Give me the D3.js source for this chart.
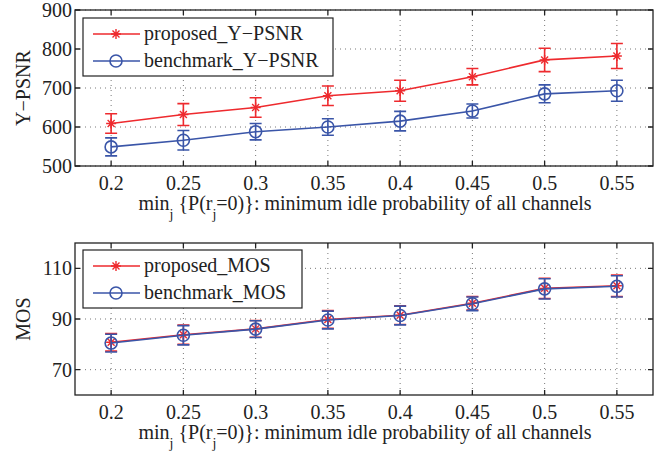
<!DOCTYPE html>
<html>
<head>
<meta charset="utf-8">
<script src="https://cdn.jsdelivr.net/npm/d3@7"></script>
<style>
  body { margin: 0; background: #fff; }
</style>
</head>
<body>
<svg id="chart"></svg>
<script>
    // data
    const probs = [0.2, 0.25, 0.3, 0.35, 0.4, 0.45, 0.5, 0.55];
    const xTicks = ["0.2", "0.25", "0.3", "0.35", "0.4", "0.45", "0.5", "0.55"];

    const proposedPsnr = [609, 632, 650, 680, 693, 729, 772, 782];
    const proposedPsnrErr = [25, 28, 25, 25, 27, 21, 30, 32];
    const benchmarkPsnr = [549, 566, 588, 600, 615, 641, 685, 693];
    const benchmarkPsnrErr = [23, 25, 21, 21, 25, 18, 23, 27];

    const proposedMos = [80.8, 83.8, 86.1, 89.8, 91.5, 96.2, 102.1, 103.1];
    const proposedMosErr = [3.5, 3.8, 3.3, 3.5, 3.7, 2.7, 4.0, 4.2];
    const benchmarkMos = [80.5, 83.6, 86.0, 89.6, 91.4, 96.0, 101.9, 102.9];
    const benchmarkMosErr = [3.5, 3.8, 3.3, 3.5, 3.7, 2.7, 4.0, 4.2];

    const psnrTicks = [500, 600, 700, 800, 900];
    const mosTicks = [70, 90, 110];

    const red = "#ee2a2e";
    const blue = "#3a55a8";
    const font = "'Liberation Serif', 'DejaVu Serif', serif";

    const width = 668, height = 454;
    const svg = d3.select("#chart").attr("width", width).attr("height", height)
      .attr("font-family", font);
    svg.append("rect").attr("width", width).attr("height", height).attr("fill", "#fff");

    function star(g, x, y, color) {
      const r = 5;
      g.append("path")
        .attr("d", `M${x - r},${y}H${x + r}M${x},${y - r}V${y + r}` +
          `M${x - r * 0.7},${y - r * 0.7}L${x + r * 0.7},${y + r * 0.7}` +
          `M${x - r * 0.7},${y + r * 0.7}L${x + r * 0.7},${y - r * 0.7}`)
        .attr("stroke", color).attr("stroke-width", 1.4).attr("fill", "none");
    }

    function circle(g, x, y, color) {
      g.append("circle").attr("cx", x).attr("cy", y).attr("r", 6)
        .attr("fill", "none").attr("stroke", color).attr("stroke-width", 1.6);
    }

    function drawPanel(opts) {
      const { top, bottom, yDomain, yTicks, yLabel, series, legendBox } = opts;
      const left = 75, right = 653;
      const x = d3.scaleLinear().domain([0.175, 0.575]).range([left, right]);
      const y = d3.scaleLinear().domain(yDomain).range([bottom, top]);
      const g = svg.append("g");

      // dotted grid
      g.append("g").selectAll("line").data(probs).join("line")
        .attr("x1", d => x(d)).attr("x2", d => x(d))
        .attr("y1", top).attr("y2", bottom)
        .attr("stroke", "#555").attr("stroke-width", 0.8).attr("stroke-dasharray", "1,4");
      g.append("g").selectAll("line").data(yTicks).join("line")
        .attr("x1", left).attr("x2", right)
        .attr("y1", d => y(d)).attr("y2", d => y(d))
        .attr("stroke", "#555").attr("stroke-width", 0.8).attr("stroke-dasharray", "1,4");

      // series
      series.forEach(s => {
        const sg = g.append("g");
        const pts = probs.map((p, i) => ({ x: p, y: s.values[i], e: s.err[i] }));
        sg.append("path").datum(pts)
          .attr("d", d3.line().x(d => x(d.x)).y(d => y(d.y)))
          .attr("fill", "none").attr("stroke", s.color).attr("stroke-width", 1.6);
        pts.forEach(d => {
          const cx = x(d.x), y1 = y(d.y + d.e), y2 = y(d.y - d.e);
          sg.append("path")
            .attr("d", `M${cx},${y1}V${y2}M${cx - 6},${y1}H${cx + 6}M${cx - 6},${y2}H${cx + 6}`)
            .attr("stroke", s.color).attr("stroke-width", 1.6).attr("fill", "none");
          if (s.marker === "star") star(sg, cx, y(d.y), s.color);
          else circle(sg, cx, y(d.y), s.color);
        });
      });

      // axes box with inward ticks
      const axis = g.append("g").attr("stroke", "#222").attr("stroke-width", 1.3).attr("fill", "none");
      axis.append("rect").attr("x", left).attr("y", top).attr("width", right - left).attr("height", bottom - top);
      probs.forEach(p => {
        axis.append("path").attr("d", `M${x(p)},${bottom}v-5M${x(p)},${top}v5`);
      });
      yTicks.forEach(t => {
        axis.append("path").attr("d", `M${left},${y(t)}h5M${right},${y(t)}h-5`);
      });

      g.append("g").selectAll("text").data(probs).join("text")
        .attr("x", d => x(d)).attr("y", bottom + 24)
        .attr("text-anchor", "middle").attr("font-size", 20).attr("fill", "#222")
        .text((d, i) => xTicks[i]);
      g.append("g").selectAll("text").data(yTicks).join("text")
        .attr("x", left - 3).attr("y", d => y(d) + 7)
        .attr("text-anchor", "end").attr("font-size", 20).attr("fill", "#222")
        .text(d => d);

      g.append("text")
        .attr("transform", `translate(30,${(top + bottom) / 2}) rotate(-90)`)
        .attr("text-anchor", "middle").attr("font-size", 20).attr("fill", "#222")
        .text(yLabel);

      // x label with subscripts
      const xl = g.append("text").attr("x", 365).attr("y", bottom + 44)
        .attr("text-anchor", "middle").attr("font-size", 20).attr("fill", "#222");
      xl.append("tspan").text("min");
      xl.append("tspan").attr("dy", 9).attr("font-size", 14).text("j");
      xl.append("tspan").attr("dy", -9).text("\u00a0{P(r");
      xl.append("tspan").attr("dy", 9).attr("font-size", 14).text("j");
      xl.append("tspan").attr("dy", -9).text("=0)}: minimum idle probability of all channels");

      // legend
      const lg = g.append("g");
      lg.append("rect")
        .attr("x", legendBox.x).attr("y", legendBox.y)
        .attr("width", legendBox.w).attr("height", legendBox.h)
        .attr("fill", "#fff").attr("stroke", "#222").attr("stroke-width", 1.2);
      series.forEach((s, i) => {
        const ly = legendBox.y + 16 + i * 27;
        lg.append("line").attr("x1", legendBox.x + 10).attr("x2", legendBox.x + 57)
          .attr("y1", ly).attr("y2", ly).attr("stroke", s.color).attr("stroke-width", 1.6);
        const mx = legendBox.x + 33;
        if (s.marker === "star") star(lg, mx, ly, s.color);
        else circle(lg, mx, ly, s.color);
        lg.append("text").attr("x", legendBox.x + 61).attr("y", ly + 6)
          .attr("font-size", 20).attr("fill", "#222").text(s.name);
      });
    }

    drawPanel({
      top: 10, bottom: 166, yDomain: [500, 900], yTicks: psnrTicks, yLabel: "Y\u2212PSNR",
      legendBox: { x: 83, y: 18, w: 250, h: 58 },
      series: [
        { name: "proposed_Y\u2212PSNR", values: proposedPsnr, err: proposedPsnrErr, color: red, marker: "star" },
        { name: "benchmark_Y\u2212PSNR", values: benchmarkPsnr, err: benchmarkPsnrErr, color: blue, marker: "circle" }
      ]
    });

    drawPanel({
      top: 243, bottom: 395, yDomain: [60, 120], yTicks: mosTicks, yLabel: "MOS",
      legendBox: { x: 83, y: 250, w: 219, h: 58 },
      series: [
        { name: "proposed_MOS", values: proposedMos, err: proposedMosErr, color: red, marker: "star" },
        { name: "benchmark_MOS", values: benchmarkMos, err: benchmarkMosErr, color: blue, marker: "circle" }
      ]
    });
</script>
</body>
</html>
